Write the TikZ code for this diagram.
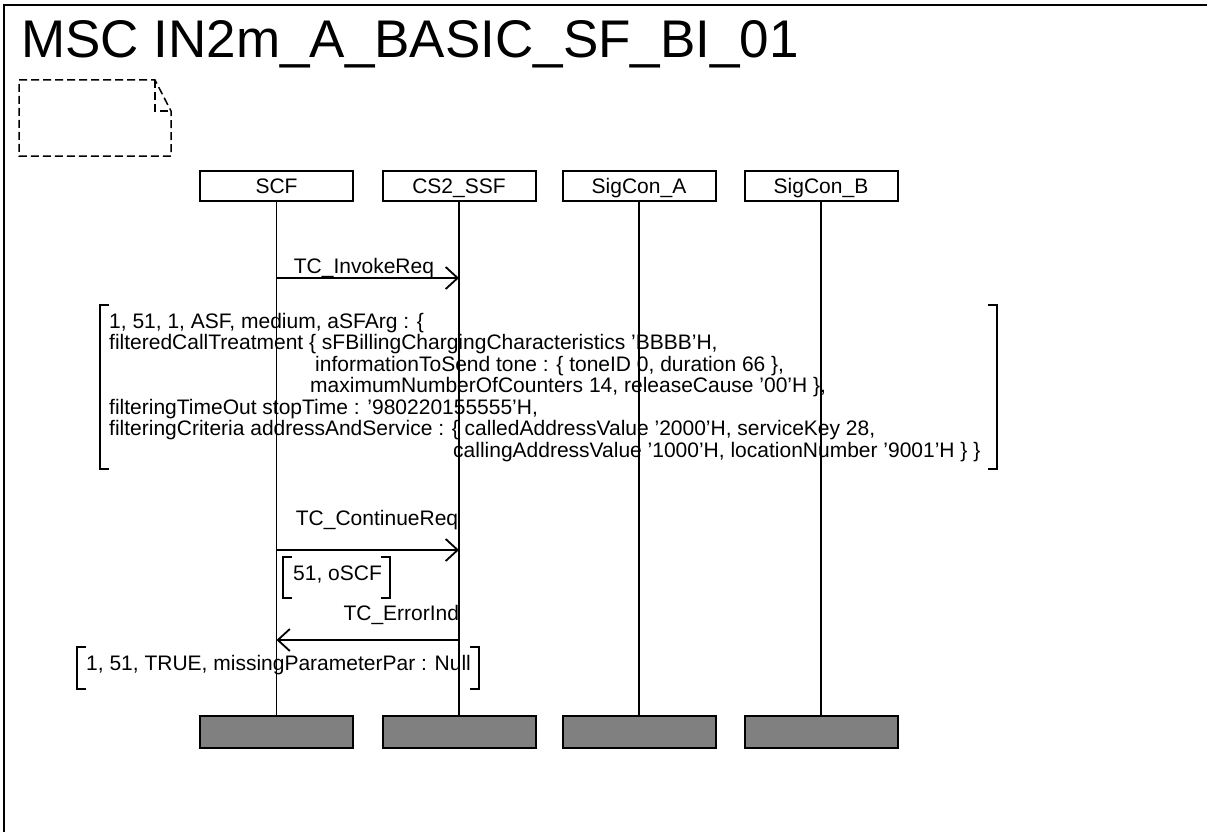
\documentclass[tikz,border=0pt]{standalone}
\usepackage{fontspec}
\setmainfont{Liberation Sans}
\usetikzlibrary{arrows.meta}

\tikzset{
    inst/.style={draw,line width=2pt,minimum width=153pt,minimum height=30pt,inner sep=0pt,text height=15pt,text depth=0pt,font=\fontsize{21}{21.5}\selectfont},
    instend/.style={draw,line width=2pt,fill=gray,minimum width=153pt,minimum height=32pt,inner sep=0pt},
    life/.style={line width=1.8pt},
    msg/.style={line width=1.8pt,-{Straight Barb[length=12pt,width=22pt]}},
    txt/.style={inner sep=0pt,font=\fontsize{21}{21.5}\selectfont},
    brk/.style={line width=2.2pt}
}

%% square brackets round a comment: left x, top y, right x, bottom y
\newcommand{\cmtbrackets}[4]{%
    \draw[brk] ({#1+9},#2) -- (#1,#2) -- (#1,#4) -- ({#1+9},#4);
    \draw[brk] ({#3-9},#2) -- (#3,#2) -- (#3,#4) -- ({#3-9},#4);
}

\begin{document}
\begin{tikzpicture}[x=1pt,y=-1pt]
    \useasboundingbox (0,0) rectangle (1207,832);
    %% frame and title
    \draw[line width=2.5pt] (4,832) -- (4,5) -- (1207,5);
    \node[anchor=base west,inner sep=0pt,font=\fontsize{53}{60}\selectfont] (title) at (21,58) {MSC IN2m\_A\_BASIC\_SF\_BI\_01};
    %% empty text symbol
    \draw[line width=1.5pt,dash pattern=on 8pt off 4pt] (19,80) -- (155,80) -- (171,111) -- (171,156) -- (19,156) -- cycle;
    \draw[line width=1.5pt,dash pattern=on 8pt off 4pt] (155,80) -- (155,111) -- (171,111);
    %% instances
    \foreach \nm/\lab/\x in {scf/SCF/276.5,ssf/CS2\_SSF/459,sca/SigCon\_A/639,scb/SigCon\_B/821} {
        \node[inst] (\nm) at (\x,186) {\lab};
        \node[instend] (\nm-end) at (\x,732) {};
        \draw[life] (\nm) -- (\nm-end);
    }
    %% messages
    \coordinate (inv-a) at (scf |- 0,278);
    \coordinate (inv-b) at (ssf |- 0,278);
    \draw[msg] (inv-a) -- (inv-b) node[txt,at start,anchor=base west,xshift=16.5pt,yshift=5pt] (inv-lab) {TC\_InvokeReq};
    \coordinate (cont-a) at (scf |- 0,550);
    \coordinate (cont-b) at (ssf |- 0,550);
    \draw[msg] (cont-a) -- (cont-b) node[txt,at start,anchor=base west,xshift=18.5pt,yshift=25pt] (cont-lab) {TC\_ContinueReq};
    \coordinate (err-a) at (ssf |- 0,640);
    \coordinate (err-b) at (scf |- 0,640);
    \draw[msg] (err-a) -- (err-b) node[txt,at start,anchor=base east,xshift=1pt,yshift=20pt] (err-lab) {TC\_ErrorInd};
    %% parameters
    \node[txt,anchor=north west,align=left] (inv-par) at (109,313) {1, 51, 1, ASF, medium, aSFArg : \{\\
filteredCallTreatment \{ sFBillingChargingCharacteristics 'BBBB'H,\\
\hspace*{206pt}informationToSend tone : \{ toneID 0, duration 66 \},\\
\hspace*{201pt}maximumNumberOfCounters 14, releaseCause '00'H \},\\
filteringTimeOut stopTime : '980220155555'H,\\
filteringCriteria addressAndService : \{ calledAddressValue '2000'H, serviceKey 28,\\
\hspace*{344pt}callingAddressValue '1000'H, locationNumber '9001'H \} \}};
    \cmtbrackets{100}{305}{997}{469}
    \node[txt,anchor=base west] (cont-par) at (293,580) {51, oSCF};
    \cmtbrackets{283}{557}{390}{598}
    \node[txt,anchor=base west] (err-par) at (86,670) {1, 51, TRUE, missingParameterPar : Null};
    \cmtbrackets{77}{647}{479}{689}
\end{tikzpicture}
\end{document}
